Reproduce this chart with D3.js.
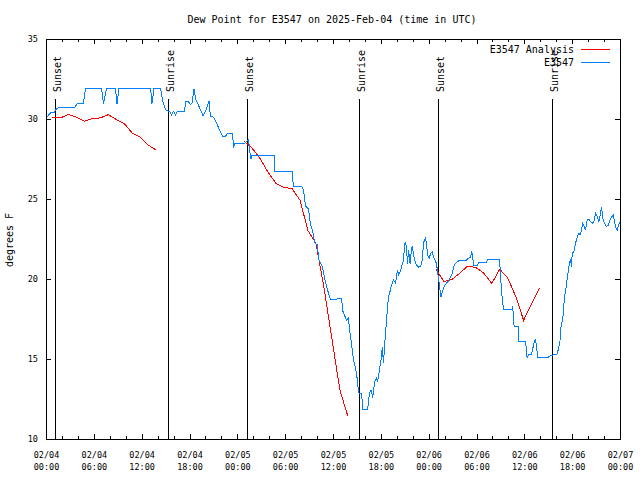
<!DOCTYPE html>
<html><head><meta charset="utf-8">
<script src="https://cdn.jsdelivr.net/npm/d3@7"></script>
<style>
html,body{margin:0;padding:0;background:#fff;}
svg{display:block;}
text{font-family:"DejaVu Sans Mono",monospace;fill:#000;}
</style></head>
<body>
<svg id="c" width="640" height="480"></svg>
<script>
// ---- data (hours since 2025-02-04 00:00 UTC) ----
const titleText = "Dew Point for E3547 on 2025-Feb-04 (time in UTC)";
const yLabel = "degrees F";
const seriesNames = ["E3547 Analysis", "E3547"];
const yTicks = [10, 15, 20, 25, 30, 35];

const obsHours = [
  0.13,0.25,0.63,1.0,1.13,1.51,3.51,3.89,4.64,4.89,
  6.9,7.15,7.53,8.66,8.84,9.09,13.05,13.23,13.48,14.3,
  14.55,14.8,15.05,15.43,15.68,15.93,16.18,16.43,17.31,17.44,
  17.81,18.06,18.25,18.5,18.75,19.0,19.32,19.63,19.95,20.2,
  20.38,20.57,20.95,21.39,21.7,22.08,22.45,22.7,23.33,23.46,
  23.65,24.84,25.02,25.34,25.53,25.65,25.78,28.54,28.66,30.8,
  30.98,32.05,32.24,32.49,32.87,33.12,33.37,33.62,34.0,34.12,
  34.37,34.62,34.87,35.25,35.62,37.0,37.19,37.51,37.69,37.88,
  38.01,38.26,38.51,38.89,39.07,39.2,39.51,39.7,40.27,40.52,
  40.7,40.89,41.02,41.14,41.39,41.52,41.77,41.89,42.02,42.11,
  42.27,42.4,42.52,42.65,42.77,42.9,43.15,43.28,43.53,43.78,
  43.9,44.03,44.15,44.41,44.53,44.78,44.91,45.03,45.16,45.28,
  45.41,45.6,45.79,45.91,46.04,46.29,46.66,46.91,47.16,47.29,
  47.54,47.67,47.86,48.04,48.17,48.42,48.54,48.92,49.05,49.17,
  49.3,49.49,49.67,49.92,50.18,50.43,50.68,50.93,51.05,51.3,
  51.55,51.81,52.68,52.81,53.19,53.31,53.44,53.56,54.06,54.19,
  55.19,55.32,56.82,56.95,57.07,57.2,57.33,58.33,58.46,58.56,
  58.65,59.15,59.21,60.09,60.28,60.46,60.84,61.09,61.28,61.47,
  61.59,62.85,63.1,63.6,64.06,64.39,64.56,64.76,64.89,65.02,
  65.19,65.32,65.44,65.61,65.73,65.86,65.94,66.15,66.36,66.57,
  66.77,66.9,67.07,67.27,67.4,67.61,67.82,68.02,68.24,68.45,
  68.65,68.87,69.08,69.28,69.49,69.62,69.78,69.99,70.25,70.46,
  70.75,71.09,71.25,71.38,71.59,71.71,71.91
];
const obsValues = [
  30.17,30.3,30.45,30.45,30.6,30.75,30.75,31.0,31.0,31.95,
  31.95,31.0,31.95,31.95,30.95,31.95,31.95,31.0,31.95,31.95,
  31.2,30.8,30.55,30.5,30.3,30.5,30.3,30.5,30.5,31.1,
  31.1,30.95,31.0,31.93,31.2,30.95,30.6,30.25,30.5,30.85,
  31.15,30.2,30.15,29.7,29.35,28.95,28.95,29.15,29.15,28.3,
  28.5,28.5,28.6,28.75,27.9,27.55,27.77,27.77,26.75,26.75,
  25.8,25.8,25.6,24.6,24.4,23.4,23.1,22.3,22.16,21.3,
  21.0,20.8,20.1,19.35,18.75,18.8,18.0,17.6,17.45,17.6,
  16.85,16.0,15.0,14.15,13.3,12.9,12.9,11.87,11.87,12.9,
  13.1,12.7,12.9,13.6,13.85,13.6,14.3,14.8,15.1,15.8,
  14.8,15.8,16.65,17.4,18.2,18.93,19.35,19.66,19.97,19.77,
  20.2,20.6,20.3,20.5,20.8,21.2,22.16,22.36,21.95,21.0,
  21.85,21.0,21.95,22.05,21.5,21.0,20.77,20.8,21.3,22.3,
  22.6,22.16,21.43,21.35,21.64,21.73,21.4,21.0,20.5,20.1,
  19.6,18.9,19.25,19.6,19.77,19.9,20.18,20.4,20.8,21.0,
  21.1,21.2,21.2,21.3,21.4,21.7,21.6,20.85,20.85,21.05,
  21.05,21.27,21.27,20.3,19.25,18.73,18.1,18.1,18.25,17.9,
  17.06,17.06,16.13,16.13,15.1,15.3,15.3,15.9,16.25,15.9,
  15.1,15.1,15.2,15.3,15.35,16.03,17.17,17.48,18.42,19.04,
  19.56,20.08,20.5,21.12,21.22,20.8,21.64,21.74,22.26,22.67,
  22.89,22.78,22.99,23.51,23.4,23.09,23.72,23.76,23.61,23.51,
  23.61,24.13,23.92,23.61,24.13,24.55,23.82,23.51,23.3,23.4,
  23.82,24.03,23.61,23.3,23.09,23.3,23.61
];

// analysis: three hourly runs, null = gap
const anaHours = [
  0.75,1.75,2.75,3.75,4.75,5.75,6.75,7.75,8.75,9.75,10.75,11.75,12.75,13.75,
  null,
  24.8,25.8,26.8,27.8,28.8,29.8,30.8,31.8,32.8,33.8,34.8,35.8,36.8,37.8,
  null,
  48.85,49.85,50.85,51.85,52.85,53.85,54.85,55.85,56.85,57.85,58.85,59.85,60.85,61.85
];
const anaValues = [
  30.15,30.1,30.32,30.15,29.9,30.05,30.1,30.3,30.0,29.75,29.15,28.9,28.4,28.1,
  null,
  28.65,28.2,27.56,26.7,26.0,25.75,25.68,24.96,23.05,22.26,19.5,16.3,13.1,11.45,
  null,
  20.64,19.87,20.0,20.4,20.85,20.75,20.4,19.75,20.64,20.1,18.95,17.45,18.5,19.46
];

const sunLabels = ["Sunset","Sunrise","Sunset","Sunrise","Sunset","Sunrise"];
const sunHours = [1.13, 15.34, 25.18, 39.3, 49.21, 63.43];

// ---- chart ----
const t0 = Date.UTC(2025, 1, 4);
const toDate = h => new Date(t0 + h * 3600e3);
const start = toDate(0), end = toDate(72);

const L = 46, R = 620, T = 39, B = 439;
const x = d3.scaleUtc().domain([start, end]).range([L, R]);
const y = d3.scaleLinear().domain([10, 35]).range([B, T]);

const svg = d3.select("#c");
svg.append("rect").attr("width", 640).attr("height", 480).attr("fill", "#fff");

// title
svg.append("text").attr("x", 332).attr("y", 22.5).attr("text-anchor", "middle")
  .attr("font-size", 10).text(titleText);

// y label
svg.append("text").attr("transform", "translate(13,240) rotate(-90)")
  .attr("text-anchor", "middle").attr("font-size", 10).text(yLabel);

const majors = d3.utcHour.every(6).range(start, toDate(72.01));
const minors = d3.utcHour.every(2).range(start, toDate(72.01)).filter(d => d.getUTCHours() % 6 !== 0);
const fmtD = d3.utcFormat("%m/%d"), fmtT = d3.utcFormat("%H:%M");

function styleAxis(g) {
  g.select(".domain").remove();
  g.selectAll(".tick line").attr("stroke", "#000").attr("shape-rendering", "crispEdges");
  g.selectAll("text").attr("font-family", '"DejaVu Sans Mono",monospace').attr("font-size", 8.5).attr("fill", "#000");
}

// bottom major with labels
const gxb = svg.append("g").attr("transform", `translate(0,${B})`)
  .call(d3.axisBottom(x).tickValues(majors).tickSizeInner(-5).tickSizeOuter(0).tickPadding(0).tickFormat(d => ""));
styleAxis(gxb);
gxb.selectAll(".tick text").each(function(d) {
  const t = d3.select(this).attr("dy", null).attr("y", null);
  t.append("tspan").attr("x", 0).attr("y", 18.5).text(fmtD(d));
  t.append("tspan").attr("x", 0).attr("y", 30.5).text(fmtT(d));
});
// bottom minor
styleAxis(svg.append("g").attr("transform", `translate(0,${B})`)
  .call(d3.axisBottom(x).tickValues(minors).tickSizeInner(-3).tickSizeOuter(0).tickFormat("")));
// top mirror
styleAxis(svg.append("g").attr("transform", `translate(0,${T})`)
  .call(d3.axisTop(x).tickValues(majors).tickSizeInner(-5).tickSizeOuter(0).tickFormat("")));
styleAxis(svg.append("g").attr("transform", `translate(0,${T})`)
  .call(d3.axisTop(x).tickValues(minors).tickSizeInner(-3).tickSizeOuter(0).tickFormat("")));
// left y
const gyl = svg.append("g").attr("transform", `translate(${L},0)`)
  .call(d3.axisLeft(y).tickValues(yTicks).tickSizeInner(-5).tickSizeOuter(0).tickPadding(8).tickFormat(d3.format("d")));
styleAxis(gyl);
// right y mirror
styleAxis(svg.append("g").attr("transform", `translate(${R},0)`)
  .call(d3.axisRight(y).tickValues(yTicks).tickSizeInner(-5).tickSizeOuter(0).tickFormat("")));

// border
svg.append("rect").attr("x", L + 0.5).attr("y", T + 0.5).attr("width", R - L).attr("height", B - T)
  .attr("fill", "none").attr("stroke", "#000").attr("shape-rendering", "crispEdges");

// sun lines
sunHours.forEach((h, i) => {
  const xs = Math.round(x(toDate(h))) + 0.5;
  svg.append("line").attr("x1", xs).attr("x2", xs).attr("y1", 99).attr("y2", B + 0.5)
    .attr("stroke", "#000").attr("shape-rendering", "crispEdges");
  svg.append("text").attr("transform", `translate(${xs + 5},92) rotate(-90)`)
    .attr("font-size", 10).text(sunLabels[i]);
});

// series
const obs = obsHours.map((h, i) => ({ t: toDate(h), v: obsValues[i] }));
const ana = anaHours.map((h, i) => ({ t: h == null ? null : toDate(h), v: anaValues[i] }));
const line = d3.line().defined(d => d.v != null).x(d => x(d.t) + 0.5).y(d => y(d.v) + 0.5);

svg.append("path").datum(ana).attr("d", line).attr("fill", "none").attr("stroke", "#ff0000")
  .attr("stroke-width", 1).attr("shape-rendering", "crispEdges");
svg.append("path").datum(obs).attr("d", line).attr("fill", "none").attr("stroke", "#0080ff")
  .attr("stroke-width", 1).attr("shape-rendering", "crispEdges");

// legend
const legColors = ["#ff0000", "#0080ff"];
seriesNames.forEach((n, i) => {
  const yy = 49.5 + i * 13;
  svg.append("text").attr("x", 574).attr("y", yy + 3.5).attr("text-anchor", "end")
    .attr("font-size", 10).text(n);
  svg.append("line").attr("x1", 581).attr("x2", 610).attr("y1", yy).attr("y2", yy)
    .attr("stroke", legColors[i]).attr("shape-rendering", "crispEdges");
});
</script>
</body></html>
